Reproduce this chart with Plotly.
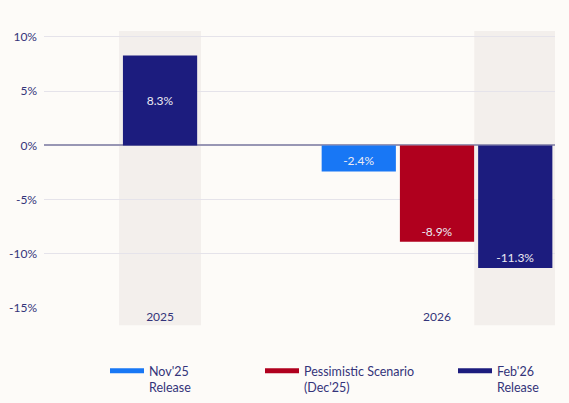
import plotly.graph_objects as go

categories = ["2025", "2026"]
nov25 = [None, -2.4]
pess = [None, -8.9]
feb26 = [8.3, -11.3]
series_names = ["Nov'25<br>Release", "Pessimistic Scenario<br>(Dec'25)", "Feb'26<br>Release"]
colors = ["#1877f5", "#b0001e", "#1c1c7e"]
ytick_vals = [10, 5, 0, -5, -10, -15]
ytick_text = ["10%", "5%", "0%", "-5%", "-10%", "-15%"]

W = 0.268   # bar width in category units
G = 0.0145  # gap between bars
PAD = 0.014

BG = "#fdfbf8"
BAND = "#f3efec"
TXT = "#34347a"
FONT = "Lato"

fig = go.Figure()

def bar(x, y, color, offset, anchor):
    return go.Bar(x=x, y=y, width=W, offset=offset, marker=dict(color=color, line=dict(width=0)),
                  texttemplate="%{y:.1f}%", textposition="inside", insidetextanchor=anchor,
                  textfont=dict(color="#ecebf3", size=12, family=FONT), showlegend=False,
                  hoverinfo="skip", cliponaxis=False)

fig.add_trace(bar(categories, nov25, colors[0], -1.5 * W - G, "end"))
fig.add_trace(bar(categories, pess, colors[1], -0.5 * W, "end"))
fig.add_trace(bar(categories[:1], feb26[:1], colors[2], -0.5 * W, "middle"))
fig.add_trace(bar(categories[1:], feb26[1:], colors[2], 0.5 * W + G, "end"))

# legend proxies
legend_ids = ["legend", "legend2", "legend3"]
for name, c, lg in zip(series_names, colors, legend_ids):
    fig.add_trace(go.Scatter(x=[None], y=[None], mode="lines", name=name,
                             line=dict(color=c, width=5), legend=lg, showlegend=True))

# highlight bands behind Feb'26 bars
fig.add_shape(type="rect", xref="x", yref="paper", x0=-0.5 * W - PAD, x1=0.5 * W + PAD,
              y0=-0.062, y1=1, fillcolor=BAND, line=dict(width=0), layer="below")
fig.add_shape(type="rect", xref="x", yref="paper", x0=1 + 0.5 * W + G - PAD, x1=1 + 1.5 * W + G + PAD,
              y0=-0.062, y1=1, fillcolor=BAND, line=dict(width=0), layer="below")

leg_common = dict(orientation="v", xref="container", yref="container",
                  yanchor="top", y=1 - 356 / 403, xanchor="left", valign="top",
                  itemwidth=34,
                  font=dict(size=12.5, color=TXT, family=FONT), bgcolor="rgba(0,0,0,0)",
                  itemclick=False, itemdoubleclick=False)
fig.update_layout(
    legend=dict(leg_common, x=105 / 569),
    legend2=dict(leg_common, x=260 / 569),
    legend3=dict(leg_common, x=453 / 569),
)

fig.update_layout(
    width=569, height=403,
    margin=dict(l=44, r=14, t=31, b=95, autoexpand=False),
    paper_bgcolor=BG, plot_bgcolor=BG,
    barmode="overlay",
    font=dict(family=FONT, color=TXT, size=12),
    xaxis=dict(type="category", range=[-0.419, 1.426], showgrid=False, zeroline=False,
               showline=False, ticks="", automargin=False,
               tickfont=dict(size=12, color=TXT, family=FONT)),
    yaxis=dict(range=[-15, 10.55], tickvals=ytick_vals, ticktext=ytick_text,
               showgrid=True, gridcolor="#e5e3ea", gridwidth=1, automargin=False,
               zeroline=True, zerolinecolor="#9896b4", zerolinewidth=1.5,
               showline=False, ticks="", ticklabelstandoff=6,
               tickfont=dict(size=12, color=TXT, family=FONT)),
)

fig.write_html("out.html", config={"displayModeBar": False},
               post_script="document.body.style.margin='0';document.body.style.background='%s';" % BG)
